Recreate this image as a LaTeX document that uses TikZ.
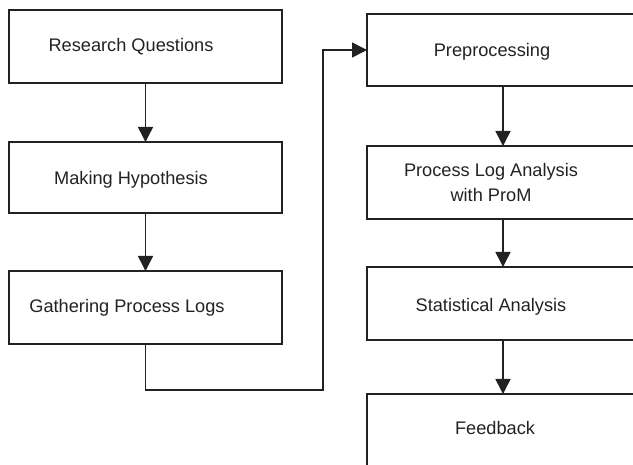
\documentclass[tikz,border=0pt]{standalone}
\usepackage{fontspec}
\setmainfont{Liberation Sans}
\usetikzlibrary{arrows.meta,calc}
\definecolor{ink}{HTML}{222222}
\tikzset{
  box/.style={draw=ink, line width=1.5pt, minimum width=#1, inner sep=0pt, outer sep=0pt},
  box/.default=273pt,
  lbl/.style={text=ink, anchor=base, inner sep=0pt, font=\fontsize{18.2}{25}\selectfont, align=center},
  flow/.style={draw=ink, line width=1.5pt, -{Triangle[width=15pt,length=15pt]}}
}
\begin{document}
\begin{tikzpicture}[x=1pt,y=-1pt]
\useasboundingbox (0,0) rectangle (633,465);
\clip (0,0) rectangle (633,465);
% left column
\node[box, minimum height=73pt] (b1) at (145.5,46.5) {};
\node[box, minimum height=71pt] (b2) at (145.5,177.5) {};
\node[box, minimum height=73pt] (b3) at (145.5,307.5) {};
% right column (cropped by picture edge)
\node[box=293pt, minimum height=72pt] (b4) at (513.5,50) {};
\node[box=293pt, minimum height=73pt] (b5) at (513.5,182.5) {};
\node[box=293pt, minimum height=73pt] (b6) at (513.5,303.5) {};
\node[box=293pt, minimum height=86pt] (b7) at (513.5,437) {};
% labels
\node[lbl] (t1) at (131,52) {Research Questions};
\node[lbl] (t2) at (131,185) {Making Hypothesis};
\node[lbl] (t3) at (127,313) {Gathering Process Logs};
\node[lbl] (t4) at (492,57) {Preprocessing};
\node[lbl] (t5) at (491,202) {Process Log Analysis\\with ProM};
\node[lbl] (t6) at (491,312) {Statistical Analysis};
\node[lbl] (t7) at (495,435) {Feedback};
% connectors
\coordinate (ar) at (503,0);
\coordinate (c1) at (323,390);
\draw[flow] (b1.south) -- (b2.north);
\draw[flow] (b2.south) -- (b3.north);
\draw[flow] (b3.south) |- (c1) |- (b4.west);
\draw[flow] (b4.south -| ar) -- (b5.north -| ar);
\draw[flow] (b5.south -| ar) -- (b6.north -| ar);
\draw[flow] (b6.south -| ar) -- (b7.north -| ar);
\end{tikzpicture}
\end{document}
